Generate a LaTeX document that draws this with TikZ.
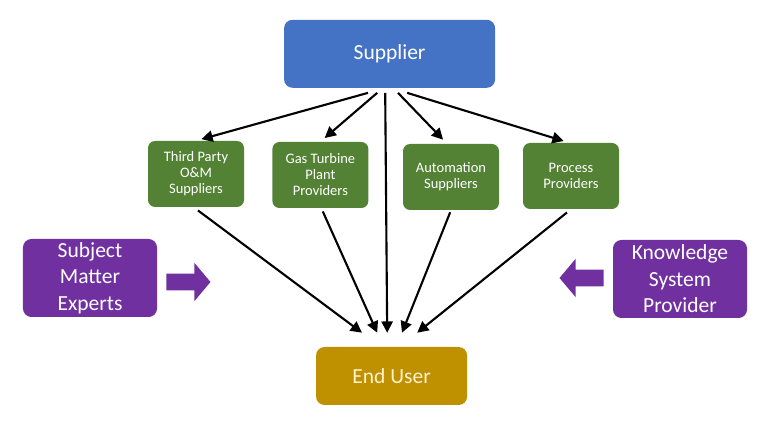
\documentclass[tikz,border=0pt]{standalone}
\usepackage{fontspec}
\setmainfont{Carlito}
\usetikzlibrary{positioning,arrows.meta,calc,shapes.arrows}
\definecolor{supblue}{HTML}{4472C4}
\definecolor{provgreen}{HTML}{548235}
\definecolor{knowpurple}{HTML}{7030A0}
\definecolor{usergold}{HTML}{BF9000}
\definecolor{usertext}{HTML}{FFF2CC}
\tikzset{
  supbox/.style={fill=supblue,rounded corners=6pt,text=white,minimum width=5.275cm,minimum height=1.7cm,font=\fontsize{15.3}{18}\selectfont},
  provbox/.style={fill=provgreen,rounded corners=5pt,text=white,align=center,minimum width=2.4cm,minimum height=1.65cm,inner sep=1pt,font=\fontsize{10.3}{11.4}\selectfont},
  expertbox/.style={fill=knowpurple,rounded corners=6pt,text=white,align=center,minimum width=3.35cm,minimum height=1.95cm,inner sep=1pt,font=\fontsize{15.3}{18.8}\selectfont},
  userbox/.style={fill=usergold,rounded corners=6pt,text=usertext,minimum width=3.775cm,minimum height=1.45cm,font=\fontsize{15.3}{18}\selectfont},
  blockarrow/.style={single arrow,fill=knowpurple,inner xsep=0pt,inner ysep=0.2cm,minimum height=1.1cm,single arrow head extend=0.275cm,single arrow tip angle=100},
  flowarrow/.style={-{Triangle[length=8pt,width=8pt]},line width=1.5pt,black}
}

\begin{document}
\begin{tikzpicture}
  \useasboundingbox (0,0) rectangle (19.5,10.975);
  \node[supbox] (sup) at (9.74,9.63){Supplier};
  \node[provbox] (tpom) at (4.9,6.625){Third Party\\O\&M\\Suppliers};
  \node[provbox] (gtpp) at (8.01,6.6){Gas Turbine\\Plant\\Providers};
  \node[provbox] (auto) at (11.275,6.55){Automation\\Suppliers};
  \node[provbox] (proc) at (14.275,6.575){Process\\Providers};
  \node[expertbox] (sme) at (2.25,4.025){Subject\\Matter\\Experts};
  \node[expertbox] (ksp) at (17.0,4.0){Knowledge\\System\\Provider};
  \node[userbox] (eu) at (9.79,1.575){End User};
  \node[blockarrow] (smearr) at (4.625,3.925){};
  \node[blockarrow,shape border rotate=180] (ksparr) at (14.625,4.025){};

  \draw[flowarrow,shorten >=4pt] ($(sup.south)+(-0.54,-0.12)$) -- (tpom.north);
  \draw[flowarrow,shorten >=4pt] ($(sup.south)+(-0.31,-0.12)$) -- (gtpp.north);
  \draw[flowarrow,shorten >=4pt] ($(sup.south)+(0.21,-0.12)$) -- ($(auto.north)+(-0.1,0)$);
  \draw[flowarrow,shorten >=4pt] ($(sup.south)+(0.44,-0.12)$) -- ($(proc.north)+(-0.05,0)$);
  \draw[flowarrow] ($(sup.south)+(-0.11,-0.12)$) -- ($(eu.north)+(-0.11,0.35)$);

  \draw[flowarrow] ($(tpom.south)+(0.05,-0.08)$) -- ($(eu.north)+(-0.74,0.35)$);
  \draw[flowarrow] ($(gtpp.south)+(0.06,-0.08)$) -- ($(eu.north)+(-0.36,0.35)$);
  \draw[flowarrow] ($(auto.south)+(-0.02,-0.05)$) -- ($(eu.north)+(0.26,0.35)$);
  \draw[flowarrow] ($(proc.south)+(-0.1,-0.08)$) -- ($(eu.north)+(0.64,0.35)$);
\end{tikzpicture}
\end{document}
